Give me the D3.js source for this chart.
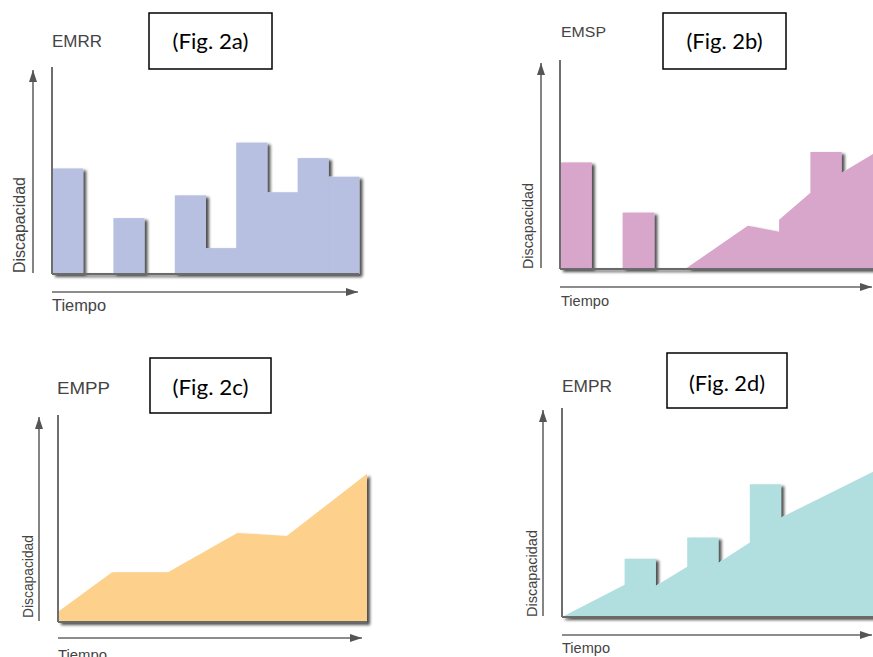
<!DOCTYPE html>
<html>
<head>
<meta charset="utf-8">
<script src="https://cdn.jsdelivr.net/npm/d3@7"></script>
<style>
  body { margin: 0; background: #fff; }
  svg { display: block; }
</style>
</head>
<body>
<div id="chart"></div>
<script>
// --- data (time in steps 0..10, disability 0..100 of axis height) ---
const X_LABEL = 'Tiempo'
const Y_LABEL = 'Discapacidad'
const panelNames = ['EMRR', 'EMSP', 'EMPP', 'EMPR']
const figLabels = ['(Fig. 2a)', '(Fig. 2b)', '(Fig. 2c)', '(Fig. 2d)']

// EMRR: one bar per time step (0 = no relapse)
const emrrBars = [51, 0, 27, 0, 38, 12.5, 63.5, 39.5, 56, 47]

// EMSP: relapses first, then progression
const emspBars = [51, 0, 27]
const emspT = [4, 6, 7, 7, 8, 8, 9, 9, 10]
const emspV = [0, 20.7, 17.8, 23.6, 36.5, 56, 56, 46, 55]

// EMPP: progressive from the start
const emppT = [0, 1.75, 3.56, 5.8, 7.4, 10]
const emppV = [5, 24, 24, 43, 41.5, 71.6]

// EMPR: progressive with relapses on top
const emprT = [0, 2, 2, 3, 3, 4, 4, 5, 5, 6, 6, 7, 7, 10]
const emprV = [0, 15.4, 27.9, 27.9, 14.9, 24, 38, 38, 26, 35.6, 63.5, 63.5, 47.6, 70]

const W = 873, H = 657

const svg = d3.select('#chart').append('svg')
    .attr('width', W)
    .attr('height', H)

svg.append('rect').attr('width', W).attr('height', H).attr('fill', '#fff')

const defs = svg.append('defs')

// soft drop shadow, like the original figure
const filter = defs.append('filter')
    .attr('id', 'shadow')
    .attr('x', '-10%').attr('y', '-10%')
    .attr('width', '130%').attr('height', '130%')
filter.append('feGaussianBlur')
    .attr('in', 'SourceAlpha')
    .attr('stdDeviation', 1.6)
    .attr('result', 'blur')
filter.append('feOffset')
    .attr('in', 'blur')
    .attr('dx', 3)
    .attr('dy', 2)
    .attr('result', 'offsetBlur')
filter.append('feComponentTransfer')
    .attr('in', 'offsetBlur')
    .attr('result', 'shade')
  .append('feFuncA')
    .attr('type', 'linear')
    .attr('slope', 0.7)
const feMerge = filter.append('feMerge')
feMerge.append('feMergeNode').attr('in', 'shade')
feMerge.append('feMergeNode').attr('in', 'SourceGraphic')

defs.append('marker')
    .attr('id', 'arrow')
    .attr('viewBox', '0 0 12 8')
    .attr('refX', 12)
    .attr('refY', 4)
    .attr('markerUnits', 'userSpaceOnUse')
    .attr('markerWidth', 12)
    .attr('markerHeight', 8)
    .attr('orient', 'auto')
  .append('path')
    .attr('d', 'M0,0 L12,4 L0,8 Z')
    .attr('fill', '#555')

const toPoints = (ts, vs) => ts.map((t, i) => ({ t: t, v: vs[i] }))

// layout of each small chart (pixels)
const panels = [
  { name: panelNames[0], fig: figLabels[0], fill: '#b8c0e2',
    left: 52, right: 359, base: 274, top: 67,
    yArrowX: 33, yArrowTop: 70, xArrowY: 292, xArrowEnd: 358,
    title: { x: 52, y: 47, size: 16, len: 50 },
    tiempo: { x: 52, y: 311, size: 16, len: 54 },
    disc: { x: 25, y: 273, size: 16, len: 96 },
    box: { x: 149, y: 13, w: 123, h: 56, ty: 49 },
    bars: emrrBars, area: null },
  { name: panelNames[1], fig: figLabels[1], fill: '#d8a6ca',
    left: 560, right: 873, base: 269, top: 60,
    yArrowX: 541, yArrowTop: 63, xArrowY: 287, xArrowEnd: 872,
    title: { x: 561, y: 37, size: 15, len: 45 },
    tiempo: { x: 561, y: 306, size: 14, len: 48 },
    disc: { x: 533, y: 269, size: 15, len: 86 },
    box: { x: 663, y: 13, w: 123, h: 56, ty: 49 },
    bars: emspBars, area: toPoints(emspT, emspV) },
  { name: panelNames[2], fig: figLabels[2], fill: '#fdd18c',
    left: 58, right: 367, base: 622, top: 415,
    yArrowX: 39, yArrowTop: 417, xArrowY: 638, xArrowEnd: 362,
    title: { x: 57, y: 394, size: 16, len: 53 },
    tiempo: { x: 58, y: 660, size: 15, len: 49 },
    disc: { x: 33, y: 618, size: 15, len: 83 },
    box: { x: 150, y: 358, w: 121, h: 55, ty: 395 },
    bars: null, area: toPoints(emppT, emppV) },
  { name: panelNames[3], fig: figLabels[3], fill: '#b1dfe0',
    left: 562, right: 875, base: 617, top: 408,
    yArrowX: 543, yArrowTop: 410, xArrowY: 635, xArrowEnd: 872,
    title: { x: 562, y: 392, size: 16, len: 50 },
    tiempo: { x: 562, y: 653, size: 15, len: 48 },
    disc: { x: 537, y: 617, size: 15, len: 87 },
    box: { x: 667, y: 353, w: 120, h: 55, ty: 391 },
    bars: null, area: toPoints(emprT, emprV) }
]

panels.forEach(p => {
  const g = svg.append('g')

  const x = d3.scaleLinear().domain([0, 10]).range([p.left, p.right])
  const y = d3.scaleLinear().domain([0, 100]).range([p.base, p.top])

  // marks + baseline share the shadow
  const marks = g.append('g').attr('filter', 'url(#shadow)')

  if (p.bars) {
    marks.selectAll('rect.bar')
      .data(p.bars.map((v, i) => ({ i: i, v: v })).filter(d => d.v > 0))
      .join('rect')
        .attr('class', 'bar')
        .attr('x', d => x(d.i))
        .attr('width', d => x(d.i + 1) - x(d.i) + 0.5)
        .attr('y', d => y(d.v))
        .attr('height', d => y(0) - y(d.v))
        .attr('fill', p.fill)
  }

  if (p.area) {
    const area = d3.area()
        .x(d => x(d.t))
        .y0(y(0))
        .y1(d => y(d.v))
    marks.append('path')
        .datum(p.area)
        .attr('d', area)
        .attr('fill', p.fill)
  }

  marks.append('line')
      .attr('x1', p.left).attr('x2', p.right)
      .attr('y1', p.base).attr('y2', p.base)
      .attr('stroke', '#6a6a6a')
      .attr('stroke-width', 2)

  // vertical axis line
  g.append('line')
      .attr('x1', p.left).attr('x2', p.left)
      .attr('y1', p.top).attr('y2', p.base)
      .attr('stroke', '#6e6e6e')
      .attr('stroke-width', 2)

  // the two arrows
  g.append('line')
      .attr('x1', p.yArrowX).attr('x2', p.yArrowX)
      .attr('y1', p.base - 1).attr('y2', p.yArrowTop)
      .attr('stroke', '#666')
      .attr('stroke-width', 1.6)
      .attr('marker-end', 'url(#arrow)')
  g.append('line')
      .attr('x1', p.left).attr('x2', p.xArrowEnd)
      .attr('y1', p.xArrowY).attr('y2', p.xArrowY)
      .attr('stroke', '#666')
      .attr('stroke-width', 1.6)
      .attr('marker-end', 'url(#arrow)')

  // texts
  g.append('text')
      .attr('x', p.title.x).attr('y', p.title.y)
      .attr('font-family', 'Liberation Sans, Arial, sans-serif')
      .attr('font-size', p.title.size)
      .attr('fill', '#444')
      .attr('textLength', p.title.len)
      .attr('lengthAdjust', 'spacingAndGlyphs')
      .text(p.name)

  g.append('text')
      .attr('x', p.tiempo.x).attr('y', p.tiempo.y)
      .attr('font-family', 'Liberation Sans, Arial, sans-serif')
      .attr('font-size', p.tiempo.size)
      .attr('fill', '#444')
      .attr('textLength', p.tiempo.len)
      .attr('lengthAdjust', 'spacingAndGlyphs')
      .text(X_LABEL)

  g.append('text')
      .attr('transform', `translate(${p.disc.x},${p.disc.y}) rotate(-90)`)
      .attr('font-family', 'Liberation Sans, Arial, sans-serif')
      .attr('font-size', p.disc.size)
      .attr('fill', '#444')
      .attr('textLength', p.disc.len)
      .attr('lengthAdjust', 'spacingAndGlyphs')
      .text(Y_LABEL)

  // (Fig. 2x) box
  g.append('rect')
      .attr('x', p.box.x).attr('y', p.box.y)
      .attr('width', p.box.w).attr('height', p.box.h)
      .attr('fill', '#fff')
      .attr('stroke', '#000')
      .attr('stroke-width', 1.5)
  g.append('text')
      .attr('x', p.box.x + p.box.w / 2).attr('y', p.box.ty)
      .attr('text-anchor', 'middle')
      .attr('font-family', 'Lato, Carlito, sans-serif')
      .attr('font-size', 21)
      .attr('fill', '#000')
      .attr('textLength', 76)
      .attr('lengthAdjust', 'spacingAndGlyphs')
      .text(p.fig)
})
</script>
</body>
</html>
